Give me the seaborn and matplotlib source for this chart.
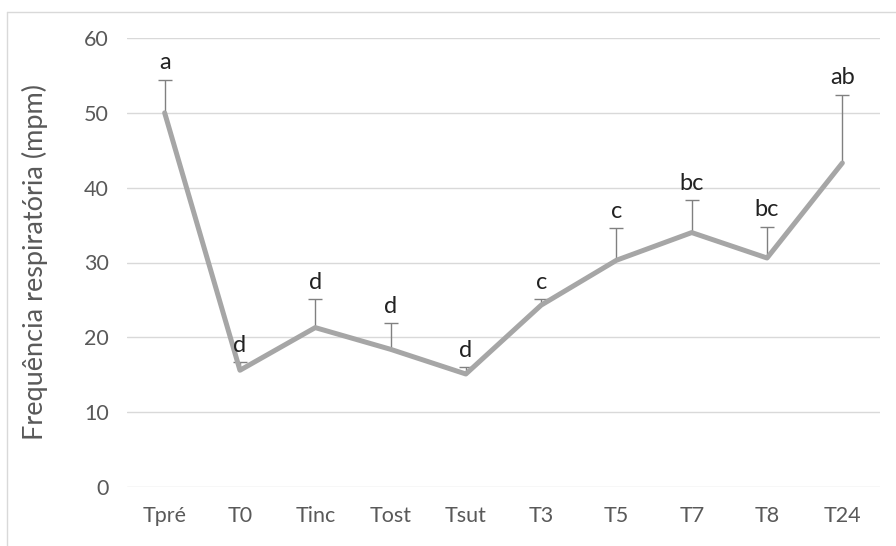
import matplotlib
matplotlib.use("Agg")
import matplotlib.pyplot as plt
from matplotlib.lines import Line2D
import seaborn as sns
import pandas as pd
import numpy as np

# data
tempos = ["Tpré", "T0", "Tinc", "Tost", "Tsut", "T3", "T5", "T7", "T8", "T24"]
media = [50.0, 15.6, 21.3, 18.4, 15.1, 24.3, 30.3, 34.0, 30.6, 43.3]
desvio = [4.4, 1.1, 3.8, 3.5, 0.9, 0.8, 4.3, 4.3, 4.2, 9.1]
letras = ["a", "d", "d", "d", "d", "c", "c", "bc", "bc", "ab"]

df = pd.DataFrame({"tempo": tempos, "fr": media})

sns.set_theme(style="white")
plt.rcParams["font.family"] = ["Lato", "DejaVu Sans"]

fig = plt.figure(figsize=(8.96, 5.46), dpi=100)
ax = fig.add_axes([127 / 896, 1 - 487 / 546, 753 / 896, 449 / 546])

x = np.arange(len(tempos))
eb = ax.errorbar(x, media, yerr=[np.zeros(len(desvio)), desvio], fmt="none",
                 ecolor="#808080", elinewidth=1, capsize=5, capthick=1, zorder=2)
# keep only the upper caps
eb[1][0].remove()

sns.lineplot(data=df, x="tempo", y="fr", sort=False, color="#A6A6A6",
             linewidth=3.6, ax=ax, zorder=3, clip_on=False)

for xi, m, d, l in zip(x, media, desvio, letras):
    ax.annotate(l, (xi, m + d), xytext=(0, 7.5), textcoords="offset points",
                ha="center", va="baseline", fontsize=17, color="#222222")

ax.set_xlim(-0.5, len(tempos) - 0.5)
ax.set_ylim(0, 60)
ax.set_yticks(range(0, 61, 10))
ax.yaxis.grid(True, color="#D9D9D9", linewidth=1)
ax.set_axisbelow(True)
sns.despine(ax=ax, left=True, bottom=True, top=True, right=True)
ax.tick_params(axis="both", length=0, colors="#595959", labelsize=15.5)
ax.tick_params(axis="y", pad=13)
ax.tick_params(axis="x", pad=14)
ax.set_xlabel("")
ax.set_ylabel("Frequência respiratória (mpm)", fontsize=19.5, color="#595959",
              labelpad=26)

# light chart frame (top and left edges)
fig.add_artist(Line2D([7 / 896, 1], [1 - 12 / 546, 1 - 12 / 546],
                      color="#D9D9D9", linewidth=1, transform=fig.transFigure))
fig.add_artist(Line2D([7 / 896, 7 / 896], [0, 1 - 12 / 546],
                      color="#D9D9D9", linewidth=1, transform=fig.transFigure))

fig.savefig("out.png", dpi=100)
